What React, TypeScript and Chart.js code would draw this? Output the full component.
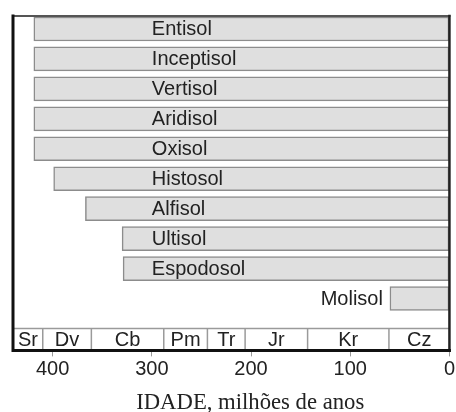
import React, { useEffect, useRef } from "react";
import { Chart, registerables } from "chart.js";

Chart.register(...registerables);

// ---- data ----
const soils = [
  "Entisol",
  "Inceptisol",
  "Vertisol",
  "Aridisol",
  "Oxisol",
  "Histosol",
  "Alfisol",
  "Ultisol",
  "Espodosol",
  "Molisol",
];
const soilOrigin = [419, 419, 419, 419, 419, 399, 367, 330, 329, 60];
const soilPresent = 0;

const periodLabels = ["Sr", "Dv", "Cb", "Pm", "Tr", "Jr", "Kr", "Cz"];
const periodBounds = [440, 410, 361, 288, 244, 206, 143, 61, 0];

const xTicks = [400, 300, 200, 100, 0];
const axisMax = 440;
const axisTitle = "IDADE, milhões de anos";

// ---- style ----
const SANS = "'Liberation Sans', Arial, sans-serif";
const SERIF = "'Liberation Serif', 'Times New Roman', serif";
const LABEL_AT = 300;
const TITLE_SHIFT = 19;
const TITLE_SIZE = 22.7;

const overlay = {
  id: "soilOverlay",
  beforeDatasetsDraw(chart: any) {
    const { ctx, chartArea } = chart;
    const xs = chart.scales.x;
    const ys = chart.scales.y;
    const top = ys.getPixelForValue(soils.length);
    const bottom = chartArea.bottom;
    ctx.save();
    ctx.fillStyle = "#ffffff";
    ctx.fillRect(chartArea.left, top, chartArea.right - chartArea.left, bottom - top);
    ctx.strokeStyle = "#9a9a9a";
    ctx.lineWidth = 1.5;
    ctx.beginPath();
    ctx.moveTo(chartArea.left, top);
    ctx.lineTo(chartArea.right, top);
    ctx.stroke();
    for (let i = 1; i < periodBounds.length - 1; i++) {
      const px = xs.getPixelForValue(periodBounds[i]);
      ctx.beginPath();
      ctx.moveTo(px, top);
      ctx.lineTo(px, bottom);
      ctx.stroke();
    }
    ctx.fillStyle = "#222";
    ctx.font = `20px ${SANS}`;
    ctx.textAlign = "center";
    ctx.textBaseline = "middle";
    for (let i = 0; i < periodLabels.length; i++) {
      const a = xs.getPixelForValue(periodBounds[i]);
      const b = xs.getPixelForValue(periodBounds[i + 1]);
      ctx.fillText(periodLabels[i], (a + b) / 2, (top + bottom) / 2 + 1);
    }
    ctx.restore();
  },
  afterDatasetsDraw(chart: any) {
    const { ctx, chartArea } = chart;
    const xs = chart.scales.x;
    const ys = chart.scales.y;
    ctx.save();
    ctx.font = `20px ${SANS}`;
    ctx.fillStyle = "#222";
    ctx.textBaseline = "middle";
    const labelX = xs.getPixelForValue(LABEL_AT);
    soils.forEach((name, i) => {
      const y = ys.getPixelForValue(i) + 1;
      const start = xs.getPixelForValue(soilOrigin[i]);
      if (start > labelX + 8) {
        ctx.textAlign = "right";
        ctx.fillText(name, start - 7, y);
      } else {
        ctx.textAlign = "left";
        ctx.fillText(name, labelX, y);
      }
    });
    // frame
    ctx.lineCap = "square";
    ctx.strokeStyle = "#555";
    ctx.lineWidth = 2;
    ctx.beginPath();
    ctx.moveTo(chartArea.left, chartArea.top);
    ctx.lineTo(chartArea.right, chartArea.top);
    ctx.stroke();
    ctx.strokeStyle = "#222";
    ctx.lineWidth = 2.5;
    ctx.beginPath();
    ctx.moveTo(chartArea.right, chartArea.top);
    ctx.lineTo(chartArea.right, chartArea.bottom);
    ctx.stroke();
    ctx.strokeStyle = "#111";
    ctx.lineWidth = 3;
    ctx.beginPath();
    ctx.moveTo(chartArea.left, chartArea.top);
    ctx.lineTo(chartArea.left, chartArea.bottom);
    ctx.lineTo(chartArea.right, chartArea.bottom);
    ctx.stroke();
    // axis title (offset as in the reference)
    ctx.font = `${TITLE_SIZE}px ${SERIF}`;
    ctx.fillStyle = "#222";
    ctx.textAlign = "center";
    ctx.textBaseline = "middle";
    ctx.fillText(axisTitle, (chartArea.left + chartArea.right) / 2 + TITLE_SHIFT, xs.bottom - 8.8);
    ctx.restore();
  },
};

export default function App() {
  const ref = useRef<HTMLCanvasElement | null>(null);
  useEffect(() => {
    if (!ref.current) return;
    const chart = new Chart(ref.current, {
      type: "bar",
      data: {
        datasets: [
          {
            data: soils.map((_, i) => ({ x: [soilOrigin[i], soilPresent], y: i })) as any,
            backgroundColor: "#dfdfdf",
            borderColor: "#8c8c8c",
            borderWidth: 1.5,
            borderSkipped: false,
            barThickness: 24,
            grouped: false,
          } as any,
        ],
      },
      options: {
        indexAxis: "y",
        animation: false,
        responsive: false,
        maintainAspectRatio: false,
        layout: { padding: { left: 13, right: 5, top: 16, bottom: 0 } },
        plugins: { legend: { display: false }, tooltip: { enabled: false } },
        scales: {
          x: {
            type: "linear",
            reverse: true,
            min: 0,
            max: axisMax,
            offset: false,
            afterBuildTicks: (s: any) => {
              s.ticks = xTicks.map((v) => ({ value: v }));
            },
            grid: { drawOnChartArea: false, drawTicks: true, tickLength: 6, color: "#999", lineWidth: 1 },
            border: { display: false },
            ticks: { font: { family: SANS, size: 20 }, color: "#222", padding: 1, maxRotation: 0 },
            title: {
              display: true,
              text: axisTitle,
              font: { family: SERIF, size: 22, lineHeight: 0.8 },
              color: "rgba(0,0,0,0)",
              padding: { top: 12, bottom: 0 },
            },
          },
          y: {
            type: "linear",
            reverse: true,
            offset: false,
            min: -0.433,
            max: 10.733,
            display: false,
          },
        },
      } as any,
      plugins: [overlay],
    });
    return () => chart.destroy();
  }, []);
  return (
    <div style={{ position: "fixed", left: 0, top: 0, width: 456, height: 412, background: "#fff" }}>
      <canvas ref={ref} width={456} height={412} style={{ display: "block" }} />
    </div>
  );
}
